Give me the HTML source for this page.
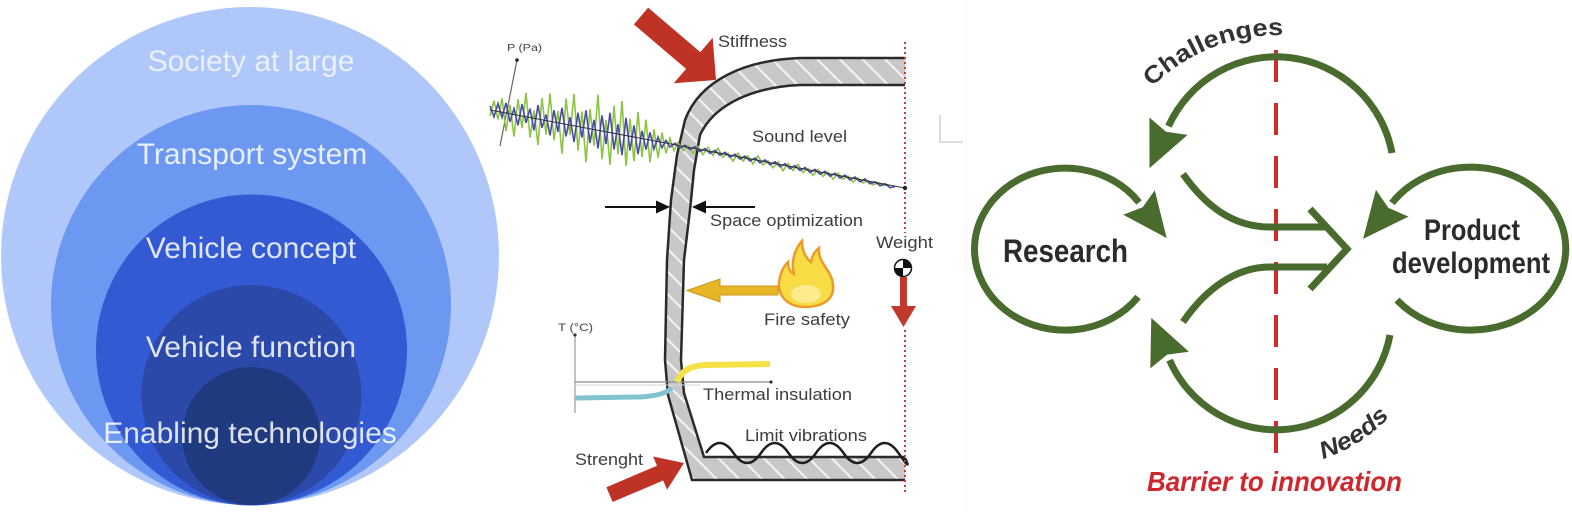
<!DOCTYPE html>
<html><head><meta charset="utf-8">
<style>
html,body{margin:0;padding:0;background:#fff;}
body{width:1572px;height:512px;overflow:hidden;}
svg{display:block;}
text{font-family:"Liberation Sans",Arial,sans-serif;}
</style></head>
<body>
<svg width="1572" height="512" viewBox="0 0 1572 512" xmlns="http://www.w3.org/2000/svg">
<defs>
  <pattern id="hatch" width="16" height="16" patternUnits="userSpaceOnUse" patternTransform="rotate(-45)">
    <rect width="16" height="16" fill="#c8c8c8"/>
    <line x1="8" y1="0" x2="8" y2="16" stroke="#f4f4f4" stroke-width="2"/>
  </pattern>
  <path id="chp" d="M1152,87 A178,178 0 0 1 1294,36"/>
  <path id="ndp" d="M1323,459 A155,155 0 0 0 1402,401"/>
</defs>
<rect width="1572" height="512" fill="#fff"/>

<!-- ============ LEFT: nested circles ============ -->
<circle cx="250" cy="256" r="249" fill="#b0c8f9"/>
<circle cx="251" cy="305" r="200" fill="#6d98f2"/>
<circle cx="251.5" cy="350" r="155.5" fill="#3359d3"/>
<circle cx="251.5" cy="395" r="110" fill="#2a49a9"/>
<circle cx="251" cy="436" r="69" fill="#203a80"/>
<g font-size="30" text-anchor="middle">
  <text x="251" y="71" fill="#fff" fill-opacity="0.72">Society at large</text>
  <text x="252" y="164" fill="#fff" fill-opacity="0.85">Transport system</text>
  <text x="251" y="258" fill="#fff" fill-opacity="0.85">Vehicle concept</text>
  <text x="251" y="357" fill="#fff" fill-opacity="0.85">Vehicle function</text>
  <text x="250" y="443" fill="#fff" fill-opacity="0.85">Enabling technologies</text>
</g>

<!-- ============ MIDDLE: panel wall diagram ============ -->
<!-- wall fill -->
<path d="M905,58 L800,58 C745,60 700,80 685,120 L677,155 L671,200 L667,260 L665,360 L668,395 L692,480 L905,480 L905,457 L704,457 L684,393 L681,360 L684,260 L690,210 L694,170 L700,135 C715,103 755,87 800,85 L905,85 Z" fill="url(#hatch)"/>
<path d="M905,58 L800,58 C745,60 700,80 685,120 L677,155 L671,200 L667,260 L665,360 L668,395 L692,480 L905,480" fill="none" stroke="#2a2a2a" stroke-width="2.5"/>
<path d="M905,85 L800,85 C755,87 715,103 700,135 L694,170 L690,210 L684,260 L681,360 L684,393 L704,457 L905,457" fill="none" stroke="#2a2a2a" stroke-width="2.5"/>

<!-- vibration wave -->
<path d="M706,453 Q719.75,433 733.5,453 T761,453 T788.5,453 T816,453 T843.5,453 T871,453 T898.5,453 T905,458" fill="none" stroke="#1e1e1e" stroke-width="2.5"/>

<!-- red dotted line -->
<path d="M905,42 L905,233 M905,330 L905,493" stroke="#cf3b3b" stroke-width="2" stroke-dasharray="2 3"/>

<!-- P axis -->
<line x1="517" y1="60" x2="500" y2="146" stroke="#666" stroke-width="1.2"/>
<circle cx="517" cy="60" r="1.8" fill="#222"/>
<text x="507" y="51" font-size="10" fill="#444" textLength="35" lengthAdjust="spacingAndGlyphs">P (Pa)</text>

<!-- noise signals -->
<polyline fill="none" stroke="#8cc544" stroke-width="1.6" points="490,116 494,100.8 498,119.5 502,98.3 506,131 510,104.8 514,136.6 518,99.3 522,128.1 526,92.8 530,137.6 534,110.4 538,145.1 542,97.9 546,134.6 550,93.4 554,140.2 558,110.9 562,153.7 566,98.4 570,135.2 574,94 578,150.7 582,111.5 586,162.2 590,109 594,145.8 598,94.5 602,159.3 606,120 610,164.8 614,105.6 618,154.3 622,101.1 626,165.8 630,118.6 634,161.4 638,112.1 642,156.9 646,119.6 650,162.4 654,129.2 658,157.9 662,132.7 666,153.4 670,138.2 674,151 678,142.7 683,150.7 688,145.6 693,153.6 698,146.5 703,154.5 708,147.4 713,155.4 718,148.3 723,157.3 728,153.2 733,161.2 738,153.1 743,161.1 748,156 753,164 758,155.9 763,164.9 768,160.8 773,167.8 778,161.7 783,170.7 788,163.6 793,170.6 798,164.5 803,172.5 808,168.4 813,175.4 818,169.3 823,176.3 828,172.2 833,179.2 838,173.1 843,179.1 848,176 853,182 858,177.9 863,182.9 868,180.8 873,184.8 878,182.7 883,185.7 888,184.6"/>
<polyline fill="none" stroke="#4b4ba6" stroke-width="1.6" points="490,106 494,116.8 498,103.5 502,117.3 506,103 510,121.8 514,108.6 518,125.3 522,104.1 526,122.8 530,108.6 534,130.4 538,105.1 542,127.9 546,114.6 550,135.4 554,110.2 558,131.9 562,107.7 566,136.4 570,117.2 574,142 578,112.7 582,137.5 586,110.2 590,143 594,119.8 598,148.5 602,115.3 606,144 610,112.8 614,149.6 618,124.3 622,155.1 626,117.8 630,150.6 634,125.4 638,154.1 642,130.9 646,149.6 650,132.4 654,149.2 658,136.9 662,147.7 666,140.4 670,147.2 675,143.2 680,148.1 685,145.2 690,149.6 695,146.6 700,151.5 705,148.5 710,153.4 715,150.4 720,155.3 725,152.3 730,157.2 735,154.2 740,159.1 745,156.1 750,161 755,158 760,162.9 765,159.9 770,164.8 775,161.8 780,166.7 785,163.7 790,168.6 795,165.6 800,170.5 805,167.5 810,172.4 815,169.4 820,174.3 825,171.3 830,176.2 835,173.2 840,178.1 845,175.1 850,180 855,177 860,181.9 865,178.9 870,183.8 875,181.8 880,185.7 885,183.7 890,187.6 895,186.6"/>
<line x1="490" y1="110" x2="905" y2="188" stroke="#333" stroke-width="1"/>
<circle cx="905" cy="188" r="2.2" fill="#222"/>

<!-- stiffness red arrow -->
<polygon points="648.1,7.6 700.3,52.1 712.7,37.7 716,80 673.7,83.3 686.1,68.9 633.9,24.4" fill="#bf3327"/>

<!-- space optimization arrows -->
<line x1="605" y1="207" x2="659" y2="207" stroke="#111" stroke-width="2"/>
<polygon points="656,200.5 670,207 656,213.5" fill="#111"/>
<line x1="755" y1="207" x2="703" y2="207" stroke="#111" stroke-width="2"/>
<polygon points="706,200.5 692,207 706,213.5" fill="#111"/>

<!-- fire -->
<polygon points="778,286 720,286 720,279 687,290.5 720,302 720,295 778,295" fill="#e7b526" stroke="#c9971c" stroke-width="1"/>
<path d="M805,307 C788,307 778,296 779,283 C780,273 784,266 788,262 C788,268 790,272 794,274 C791,262 794,250 802,241 C802,252 806,258 811,262 C812,256 815,251 819,248 C818,256 822,262 826,268 C831,275 834,283 833,290 C832,300 822,307 805,307 Z" fill="#f8dc45" stroke="#ec9a2a" stroke-width="2.5"/>
<ellipse cx="806" cy="294" rx="15" ry="9" fill="#fbeb8c"/>

<!-- weight -->
<circle cx="903" cy="268" r="8.5" fill="#fff" stroke="#111" stroke-width="1.5"/>
<path d="M903,268 L903,259.5 A8.5,8.5 0 0 1 911.5,268 Z M903,268 L903,276.5 A8.5,8.5 0 0 1 894.5,268 Z" fill="#111"/>
<rect x="900" y="277" width="7" height="31" fill="#c0392b"/>
<polygon points="891,306 916,306 903.5,327" fill="#c0392b"/>

<!-- thermal -->
<line x1="575" y1="335" x2="575" y2="413" stroke="#999" stroke-width="1.2"/>
<circle cx="575" cy="335" r="1.6" fill="#333"/>
<line x1="575" y1="382" x2="771" y2="382" stroke="#8a8a8a" stroke-width="1.2"/>
<line x1="575" y1="385" x2="700" y2="385" stroke="#d6d6d6" stroke-width="1"/>
<circle cx="771" cy="382" r="1.6" fill="#333"/>
<path d="M575,398 L640,397 C655,396 665,394 672,388" fill="none" stroke="#82c3d0" stroke-width="5"/>
<path d="M677,382 C682,370 690,366 705,365 L770,364" fill="none" stroke="#f5e045" stroke-width="6"/>
<text x="558" y="331" font-size="11" fill="#444" textLength="35" lengthAdjust="spacingAndGlyphs">T (°C)</text>

<!-- strength red arrow -->
<polygon points="606.4,487.2 657,465.7 653.1,456.5 684,463 667.1,489.7 663.2,480.5 612.6,502" fill="#bf3327"/>

<!-- gray L mark & faint separator -->
<path d="M940,115 L940,142 L963,142" fill="none" stroke="#b8b8b8" stroke-width="1"/>
<line x1="966" y1="0" x2="966" y2="512" stroke="#f3f3f3" stroke-width="1"/>

<!-- middle labels -->
<g font-size="17" fill="#3d3d3d">
  <text x="718" y="47" textLength="69" lengthAdjust="spacingAndGlyphs">Stiffness</text>
  <text x="752" y="142" textLength="95" lengthAdjust="spacingAndGlyphs">Sound level</text>
  <text x="710" y="226" textLength="153" lengthAdjust="spacingAndGlyphs">Space optimization</text>
  <text x="876" y="248" textLength="57" lengthAdjust="spacingAndGlyphs">Weight</text>
  <text x="764" y="325" textLength="86" lengthAdjust="spacingAndGlyphs">Fire safety</text>
  <text x="703" y="400" textLength="149" lengthAdjust="spacingAndGlyphs">Thermal insulation</text>
  <text x="745" y="441" textLength="122" lengthAdjust="spacingAndGlyphs">Limit vibrations</text>
  <text x="575" y="465" textLength="68" lengthAdjust="spacingAndGlyphs">Strenght</text>
</g>

<!-- ============ RIGHT: research / product loops ============ -->
<line x1="1276" y1="50" x2="1276" y2="453" stroke="#d22b2b" stroke-width="4" stroke-dasharray="32 21"/>

<g fill="none" stroke="#4a6b2e" stroke-width="7">
  <path d="M1138,297 A90.5,81 0 1 1 1139,202.5"/>
  <path d="M1397,300 A95,81.5 0 1 0 1392,203"/>
  <path d="M1392,153 A118,118 0 0 0 1168.5,126.2"/>
  <path d="M1390,335 A116,116 0 0 1 1169.6,360.1"/>
  <path d="M1183,174 C1205,205 1232,227 1270,227 L1327,227"/>
  <path d="M1183,322 C1205,290 1235,267 1270,267 L1327,267"/>
  <path d="M1310,209 L1347,249 L1310,289" stroke-linejoin="miter"/>
</g>
<g fill="#4a6b2e">
  <polygon points="1123.2,214.8 1166.7,238 1154.8,190.2 1142.7,207.2"/>
  <polygon points="1408.5,216.6 1363.1,238.9 1375.9,189.8 1388.4,207.9"/>
  <polygon points="1187.6,134.9 1149.5,168.1 1149.4,117.5 1166,131.7"/>
  <polygon points="1188.9,351.8 1151.3,317.9 1150.3,368.4 1167.2,354.6"/>
</g>

<text x="1003" y="262" font-size="32" font-weight="bold" fill="#2b2b2b" textLength="125" lengthAdjust="spacingAndGlyphs">Research</text>
<text x="1424" y="240" font-size="30" font-weight="bold" fill="#2b2b2b" textLength="96" lengthAdjust="spacingAndGlyphs">Product</text>
<text x="1392" y="273" font-size="30" font-weight="bold" fill="#2b2b2b" textLength="158" lengthAdjust="spacingAndGlyphs">development</text>

<text font-size="24" font-weight="bold" fill="#333"><textPath href="#chp" textLength="145" lengthAdjust="spacingAndGlyphs">Challenges</textPath></text>
<text font-size="24" font-weight="bold" font-style="italic" fill="#333"><textPath href="#ndp" textLength="80" lengthAdjust="spacingAndGlyphs">Needs</textPath></text>

<text x="1147" y="491" font-size="28" font-weight="bold" font-style="italic" fill="#d0262d" textLength="255" lengthAdjust="spacingAndGlyphs">Barrier to innovation</text>
</svg>
</body></html>
